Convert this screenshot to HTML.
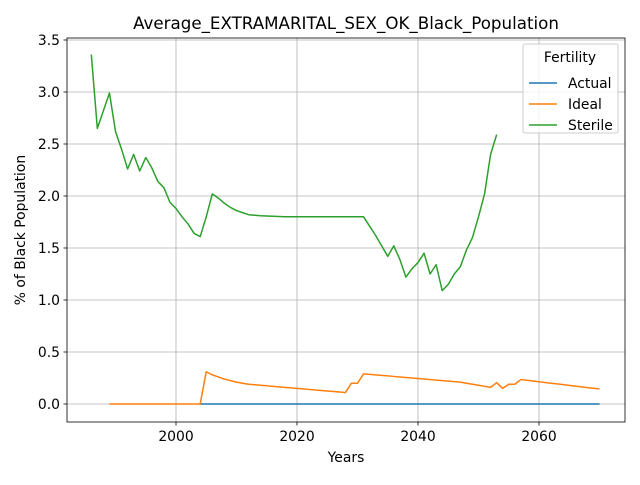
<!DOCTYPE html>
<html><head><meta charset="utf-8"><style>
body{margin:0;background:#fff;font-family:"Liberation Sans","DejaVu Sans",sans-serif}
svg text{font-family:"DejaVu Sans","Liberation Sans",sans-serif}
</style></head><body>
<svg id="c" width="640" height="480"></svg>
<script>
const startActual=2004, endActual=2070;
const actualValue=0;
const idealYears=[1989,1990,1991,1992,1993,1994,1995,1996,1997,1998,1999,2000,2001,2002,2003,2004,2005,2006,2007,2008,2009,2010,2011,2012,2013,2014,2015,2016,2017,2018,2019,2020,2021,2022,2023,2024,2025,2026,2027,2028,2029,2030,2031,2032,2033,2034,2035,2036,2037,2038,2039,2040,2041,2042,2043,2044,2045,2046,2047,2048,2049,2050,2051,2052,2053,2054,2055,2056,2057,2058,2059,2060,2061,2062,2063,2064,2065,2066,2067,2068,2069,2070];
const idealValues=[0,0,0,0,0,0,0,0,0,0,0,0,0,0,0,0,0.31,0.28,0.26,0.24,0.225,0.21,0.2,0.19,0.185,0.18,0.175,0.17,0.165,0.16,0.155,0.15,0.145,0.14,0.135,0.13,0.125,0.12,0.115,0.11,0.2,0.2,0.29,0.285,0.28,0.275,0.27,0.265,0.26,0.255,0.25,0.245,0.24,0.235,0.23,0.225,0.22,0.215,0.21,0.2,0.19,0.18,0.17,0.16,0.205,0.15,0.19,0.19,0.235,0.228,0.221,0.214,0.207,0.2,0.193,0.186,0.179,0.172,0.165,0.158,0.151,0.145];
const sterileYears=[1986,1987,1988,1989,1990,1991,1992,1993,1994,1995,1996,1997,1998,1999,2000,2001,2002,2003,2004,2005,2006,2007,2008,2009,2010,2011,2012,2013,2014,2016,2018,2031,2032,2033,2034,2035,2036,2037,2038,2039,2040,2041,2042,2043,2044,2045,2046,2047,2048,2049,2050,2051,2052,2053];
const sterileValues=[3.36,2.65,2.82,2.99,2.62,2.45,2.26,2.4,2.24,2.37,2.27,2.14,2.08,1.94,1.88,1.8,1.73,1.64,1.61,1.8,2.02,1.98,1.93,1.89,1.86,1.84,1.82,1.815,1.81,1.805,1.8,1.8,1.71,1.62,1.52,1.42,1.52,1.39,1.22,1.3,1.36,1.45,1.25,1.34,1.09,1.15,1.25,1.32,1.48,1.6,1.8,2.02,2.4,2.59];
const xTicks=[2000,2020,2040,2060];
const yTicks=[0,0.5,1,1.5,2,2.5,3,3.5];

const NS="http://www.w3.org/2000/svg",svg=document.getElementById('c');
const L=67,R=625,T=38,B=422;
const X=v=>176+(v-2000)*6.05;
const Y=v=>404-v*104;
const FS=13.9;
function el(t,a,p){const e=document.createElementNS(NS,t);for(const k in a)e.setAttribute(k,a[k]);(p||svg).appendChild(e);return e;}
xTicks.forEach(t=>{
 const g=el('line',{x1:X(t),x2:X(t),y1:T,y2:B,stroke:'#b0b0b0','stroke-width':0.8});
 
 
 el('line',{x1:X(t),x2:X(t),y1:B,y2:B+3.5,stroke:'#000','stroke-width':0.8});
 const tx=el('text',{x:X(t),y:B+19,'text-anchor':'middle','font-size':FS});tx.textContent=t;
 
 
});
yTicks.forEach(t=>{
 const g=el('line',{x1:L,x2:R,y1:Y(t),y2:Y(t),stroke:'#b0b0b0','stroke-width':0.8});
 
 
 el('line',{x1:L-3.5,x2:L,y1:Y(t),y2:Y(t),stroke:'#000','stroke-width':0.8});
 const tx=el('text',{x:L-7,y:Y(t)+5,'text-anchor':'end','font-size':FS});tx.textContent=t.toFixed(1);
 
 
});
function line(xs,ys,c,name){
 const p=el('polyline',{points:xs.map((x,i)=>X(x)+','+Y(ys[i])).join(' '),fill:'none',stroke:c,'stroke-width':1.5,'stroke-linejoin':'round'});
 
 
}
const ay=[],av=[];for(let y=startActual;y<=endActual;y++){ay.push(y);av.push(actualValue);}
line(ay,av,'#1f77b4','actual-line');
line(idealYears,idealValues,'#ff7f0e','ideal-line');
line(sterileYears,sterileValues,'#2ca02c','sterile-line');
const fr=el('rect',{x:L,y:T,width:R-L,height:B-T,fill:'none',stroke:'#000','stroke-width':0.8});


let t=el('text',{x:346,y:29,'text-anchor':'middle','font-size':16.7});t.textContent='Average_EXTRAMARITAL_SEX_OK_Black_Population';


t=el('text',{x:346,y:462,'text-anchor':'middle','font-size':FS});t.textContent='Years';


t=el('text',{x:0,y:0,'text-anchor':'middle','font-size':FS,transform:'translate(25,230) rotate(-90)'});t.textContent='% of Black Population';


const lg=el('g',{});


el('rect',{x:523,y:44,width:95,height:89,rx:2,fill:'#fff','fill-opacity':0.8,stroke:'#ccc'},lg);
t=el('text',{x:570,y:62,'text-anchor':'middle','font-size':FS},lg);t.textContent='Fertility';
[['Actual','#1f77b4'],['Ideal','#ff7f0e'],['Sterile','#2ca02c']].forEach((d,i)=>{
 const y=83+i*21;
 el('line',{x1:529,x2:557,y1:y,y2:y,stroke:d[1],'stroke-width':1.5},lg);
 const tx=el('text',{x:568,y:y+5,'font-size':FS},lg);tx.textContent=d[0];
 
 
});
</script>
</body></html>
